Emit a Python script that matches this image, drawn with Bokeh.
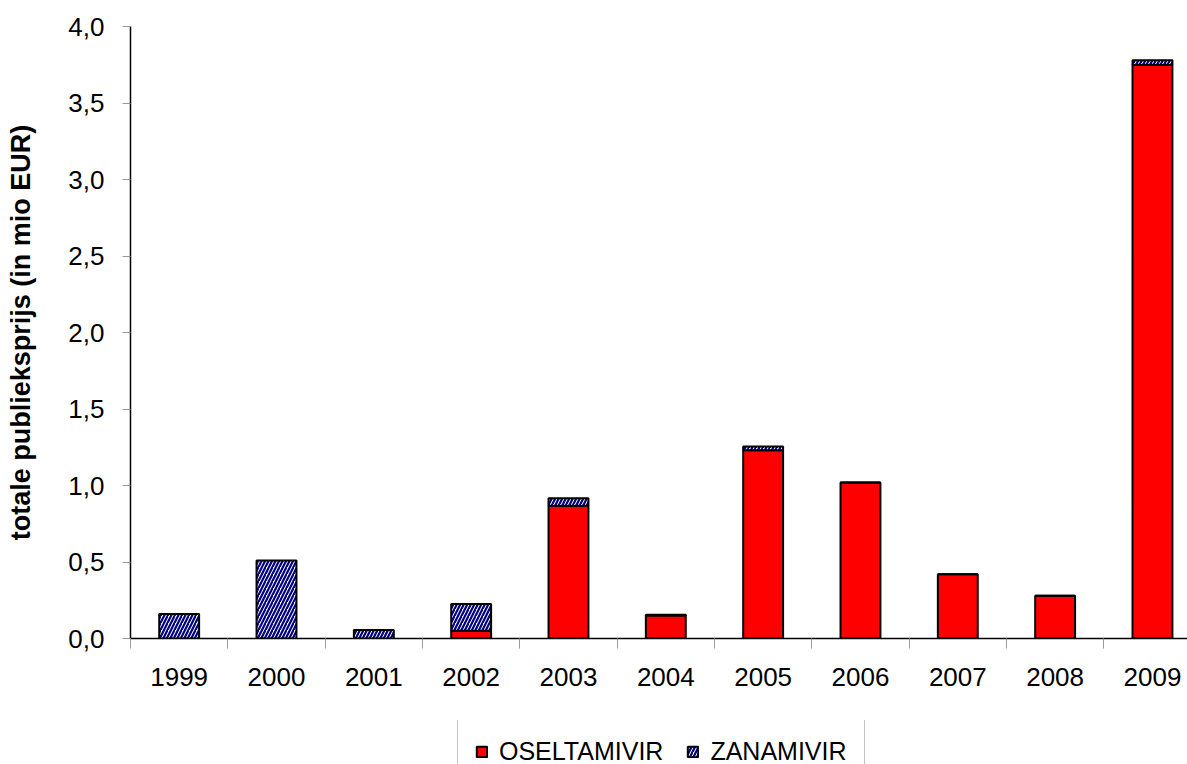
from bokeh.plotting import figure
from bokeh.layouts import column
from bokeh.models import ColumnDataSource, Range1d, FixedTicker, Legend, LegendItem
from bokeh.embed import file_html
from bokeh.resources import INLINE

years = ["1999", "2000", "2001", "2002", "2003", "2004", "2005", "2006", "2007", "2008", "2009"]
oseltamivir = [0.0, 0.0, 0.0, 0.05, 0.867, 0.15, 1.23, 1.02, 0.42, 0.28, 3.75]
zanamivir = [0.16, 0.51, 0.055, 0.175, 0.05, 0.005, 0.025, 0.0, 0.0, 0.0, 0.03]
y_ticks = [0.0, 0.5, 1.0, 1.5, 2.0, 2.5, 3.0, 3.5, 4.0]
series_names = ["OSELTAMIVIR", "ZANAMIVIR"]

xs = list(range(len(years)))
tops_o = oseltamivir
tops_z = [o + z for o, z in zip(oseltamivir, zanamivir)]
src = ColumnDataSource(dict(x=xs, o=tops_o, zb=tops_o, zt=tops_z))

RED = dict(fill_color="#FF0000", line_color="black", line_width=2)
HATCH = dict(fill_color="white", hatch_pattern="/", hatch_color="#000080", hatch_scale=7,
             hatch_weight=2.2, line_color="black", line_width=2)

p = figure(width=1187, height=720, output_backend="svg", toolbar_location=None,
           x_range=Range1d(-0.5, 10.36), y_range=Range1d(0, 4.0),
           min_border_left=130, min_border_top=26, min_border_right=0, min_border_bottom=82)
p.grid.visible = False
p.outline_line_color = None
p.background_fill_color = "white"
p.border_fill_color = "white"

W = 0.41
p.vbar(x="x", top="o", bottom=0, width=W, source=src, **RED)
p.vbar(x="x", top="zt", bottom="zb", width=W, source=src, **HATCH)

# x axis
xa = p.xaxis[0]
xa.ticker = FixedTicker(ticks=xs, minor_ticks=[i - 0.5 for i in range(len(years) + 1)])
xa.major_label_overrides = {i: y for i, y in enumerate(years)}
xa.major_tick_out = 0
xa.major_tick_in = 0
xa.minor_tick_out = 10
xa.minor_tick_in = 0
xa.minor_tick_line_color = "#999999"
xa.axis_line_color = "black"
xa.axis_line_width = 1.5
xa.major_label_text_font = "Liberation Sans"
xa.major_label_text_font_size = "26px"
xa.major_label_text_color = "black"
xa.major_label_standoff = 19

ya = p.yaxis[0]
ya.ticker = FixedTicker(ticks=y_ticks)
ya.major_label_overrides = {t: f"{t:.1f}".replace(".", ",") for t in y_ticks}
ya.minor_tick_line_color = None
ya.major_tick_out = 8
ya.major_tick_in = 0
ya.major_tick_line_color = "#999999"
ya.axis_line_color = "black"
ya.axis_line_width = 1.5
ya.major_label_text_font = "Liberation Sans"
ya.major_label_text_font_size = "26px"
ya.major_label_text_color = "black"
ya.major_label_standoff = 18
ya.axis_label = "totale publieksprijs (in mio EUR)"
ya.axis_label_text_font = "Liberation Sans"
ya.axis_label_text_font_style = "bold"
ya.axis_label_text_font_size = "27px"
ya.axis_label_text_color = "black"
ya.axis_label_standoff = 29

# legend strip below the chart (same series, zero-width and out of view; only the legend shows)
p2 = figure(width=1187, height=44, output_backend="svg", toolbar_location=None,
            x_range=Range1d(-0.5, 10.36), y_range=Range1d(100, 101),
            x_axis_type=None, y_axis_type=None,
            min_border_left=0, min_border_top=0, min_border_right=0, min_border_bottom=0)
p2.grid.visible = False
p2.outline_line_color = None
p2.border_fill_color = "white"
l1 = p2.vbar(x="x", top="o", bottom=0, width=0, source=src, **RED)
l2 = p2.vbar(x="x", top="zt", bottom="zb", width=0, source=src, **HATCH)

legend = Legend(items=[LegendItem(label=series_names[0], renderers=[l1], index=0),
                       LegendItem(label=series_names[1], renderers=[l2], index=0)],
                orientation="horizontal", location=(327, -20))
legend.label_text_font = "Liberation Sans"
legend.label_text_font_size = "25px"
legend.label_text_color = "black"
legend.border_line_color = "#888888"
legend.border_line_width = 1.5
legend.glyph_width = 13
legend.glyph_height = 13
legend.spacing = 23
legend.padding = 17
legend.margin = 0
legend.label_standoff = 11
p2.add_layout(legend, "center")

layout = column(p, p2, spacing=0)
open("out.html", "w").write(file_html(layout, INLINE))
